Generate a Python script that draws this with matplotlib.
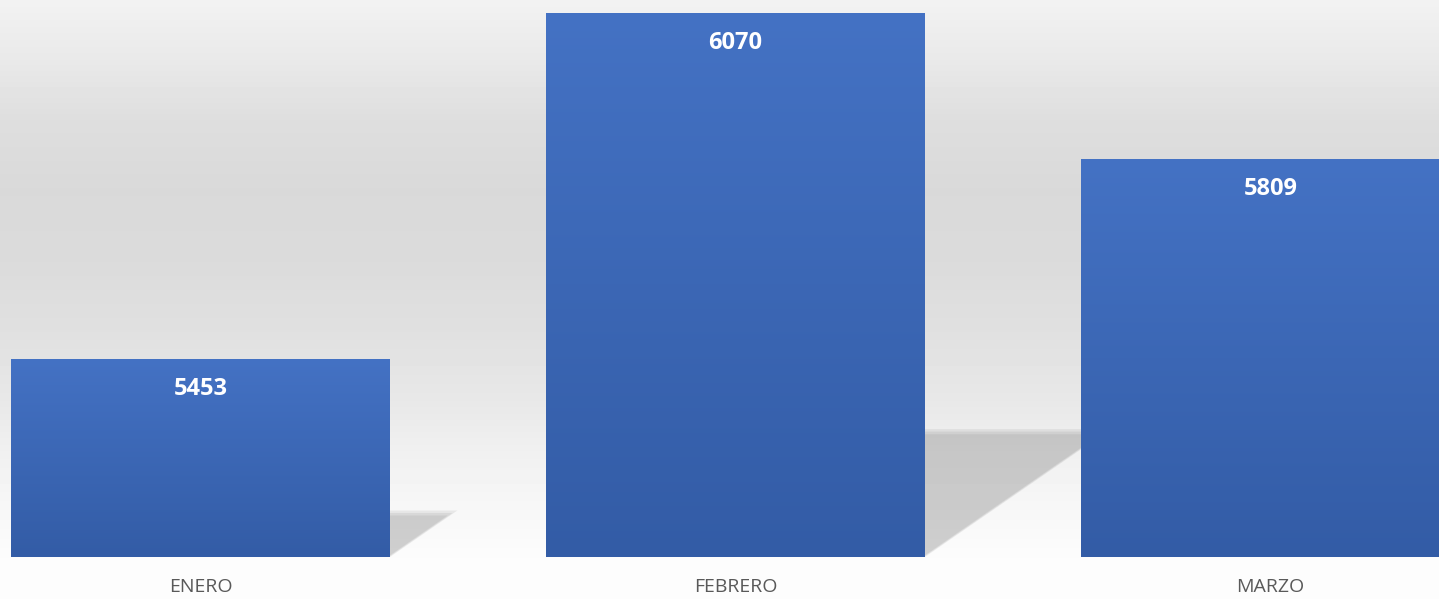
import numpy as np
import matplotlib
matplotlib.use('Agg')
import matplotlib.pyplot as plt
from matplotlib.patches import Polygon

# data
months = ['ENERO', 'FEBRERO', 'MARZO']
totals = [5453, 6070, 5809]

# figure and background gradient (light at top, darker band, white floor)
fig = plt.figure(figsize=(14.39, 5.99), dpi=100)
bg = fig.add_axes([0, 0, 1, 1], zorder=0)
rows = np.arange(599)
stops_px = [0, 60, 120, 190, 260, 330, 400, 450, 500, 557, 599]
stops_gray = [242, 233, 222, 217, 219, 224, 232, 240, 246, 252, 253]
col = np.interp(rows, stops_px, stops_gray) / 255.0
bg.imshow(col[:, None], cmap='gray', vmin=0, vmax=1, aspect='auto',
          extent=[0, 1, 0, 1], origin='upper')
bg.axis('off')

ax = fig.add_axes([0, 42 / 599, 1, 557 / 599], zorder=1)
ax.patch.set_alpha(0)
base = 5100
ax.set_xlim(-0.375, 2.315)
ax.set_ylim(base, 6093)

width = 0.708
x = np.arange(len(months))

# pixel scale of the data axes, used for the skewed shadows
px_x = 1439 / (2.315 + 0.375)
px_y = 557 / (6093 - base)

# shadows cast to the right on the floor (a few stacked layers to soften the edge)
for xi, v in zip(x, totals):
    d_px = 0.235 * (v - base) * px_y
    x0, x1 = xi - width / 2, xi + width / 2
    for k in range(3):
        shrink = (2 - k) * 2.5
        d = d_px - shrink
        s = 1.45 * d / px_x
        top = base + d / px_y
        grow = -shrink * 0.5 / px_x
        pts = [(x0, base), (x1 + grow, base), (x1 + s + grow, top), (x0 + s, top)]
        ax.add_patch(Polygon(pts, closed=True, facecolor='#6a6a6a', alpha=0.115,
                             edgecolor='none', zorder=1))

# bars with a vertical gradient
grad = np.linspace(0, 1, 256)[:, None]
cmap = matplotlib.colors.LinearSegmentedColormap.from_list('bar', ['#4472c4', '#335ca6'])
bars = ax.bar(x, totals, width=width, bottom=0, color='none', edgecolor='none', zorder=2)
for b, v in zip(bars, totals):
    bx, bw = b.get_x(), b.get_width()
    im = ax.imshow(grad, cmap=cmap, aspect='auto', origin='upper',
                   extent=[bx, bx + bw, base, v], zorder=2)
    im.set_clip_path(b)

ax.set_xlim(-0.375, 2.315)
ax.set_ylim(base, 6093)

for xi, v in zip(x, totals):
    ax.annotate(str(v), (xi, v), xytext=(0, -30), textcoords='offset pixels',
                ha='center', va='center', color='white', fontsize=17,
                fontweight='bold', family='Open Sans', zorder=3)

ax.set_xticks(x)
ax.set_xticklabels(months, fontsize=14, color='#595959', family='Open Sans')
ax.tick_params(axis='x', length=0, pad=15)
ax.set_yticks([])
for sp in ax.spines.values():
    sp.set_visible(False)

fig.savefig('out.png', dpi=100)
